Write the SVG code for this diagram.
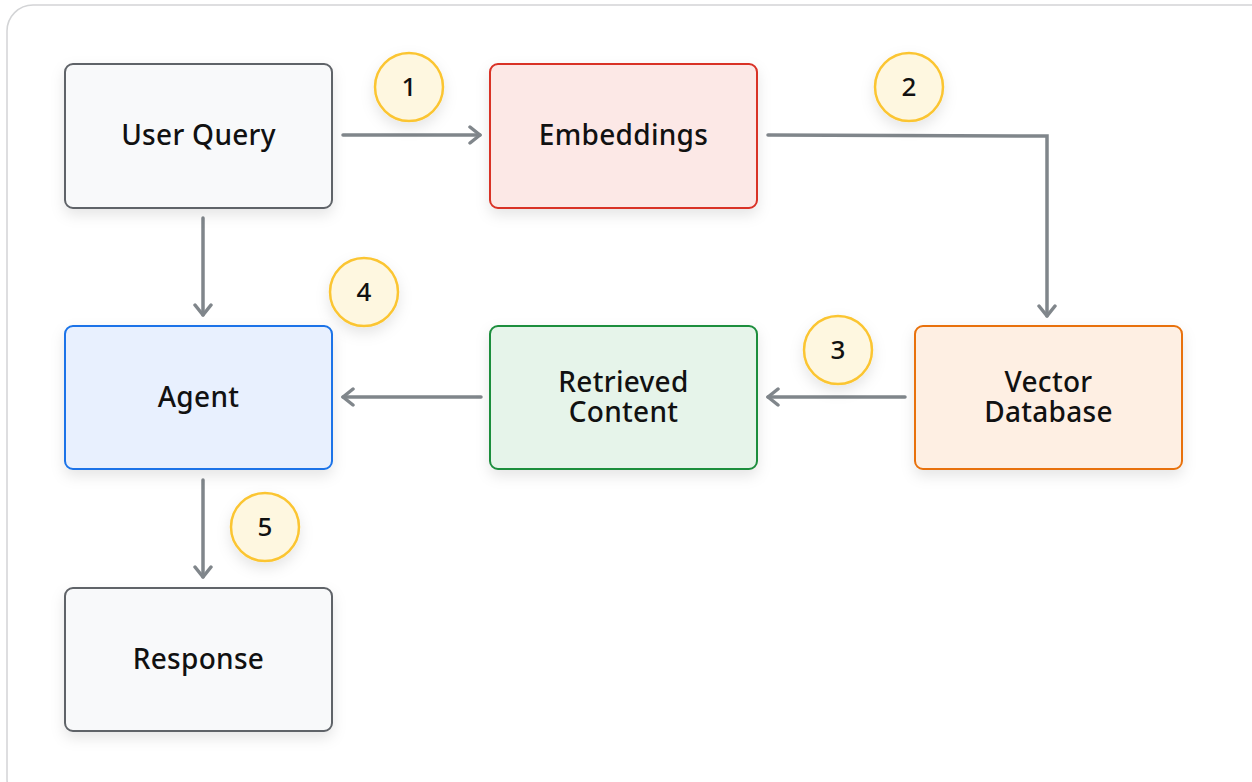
<svg xmlns="http://www.w3.org/2000/svg" width="1252" height="782" viewBox="0 0 1252 782">
<style>
.node rect{stroke-width:2}
.lbl{font-family:"Noto Sans","Open Sans",sans-serif;font-size:28px;font-weight:500;letter-spacing:0.3px;fill:#111;text-anchor:middle}
.num{font-family:"Noto Sans","Open Sans",sans-serif;font-size:26px;font-weight:500;fill:#111;text-anchor:middle}
.badge circle{fill:#fef7e0;stroke:#fbc531;stroke-width:2.5}
.conn path{fill:none;stroke:#80868b;stroke-width:3.5;stroke-linecap:round;stroke-linejoin:miter}
</style>
<defs>
<filter id="sh" x="-20%" y="-20%" width="140%" height="150%">
<feDropShadow dx="0" dy="6" stdDeviation="7" flood-color="#000" flood-opacity="0.10"/>
</filter>
<marker id="ah" viewBox="0 0 14 20" refX="12" refY="10" markerWidth="14" markerHeight="20" markerUnits="userSpaceOnUse" orient="auto">
<path d="M2,2 L12,10 L2,18" fill="none" stroke="#80868b" stroke-width="3.5" stroke-linecap="round" stroke-linejoin="round"/>
</marker>
</defs>
<rect x="0" y="0" width="1252" height="782" fill="#fff"/>
<rect x="7" y="5" width="1275" height="800" rx="26" fill="#fff" stroke="#d3d4d6" stroke-width="1.5"/>

<g class="conn" id="connectors">
<path d="M343,135 L480,135" marker-end="url(#ah)"/>
<path d="M768,135 L1047,136 L1047,316" marker-end="url(#ah)"/>
<path d="M905,397 L768,397" marker-end="url(#ah)"/>
<path d="M481,397 L343,397" marker-end="url(#ah)"/>
<path d="M203,218 L203,315" marker-end="url(#ah)"/>
<path d="M203,480 L203,577" marker-end="url(#ah)"/>
</g>

<g class="node" id="user-query">
<rect x="65" y="64" width="267" height="144" rx="8" fill="#f8f9fa" stroke="#5f6368" filter="url(#sh)"/>
<text class="lbl" x="198.5" y="145">User Query</text>
</g>
<g class="node" id="embeddings">
<rect x="490" y="64" width="267" height="144" rx="8" fill="#fce8e6" stroke="#d93025" filter="url(#sh)"/>
<text class="lbl" x="623.5" y="145">Embeddings</text>
</g>
<g class="node" id="vector-database">
<rect x="915" y="326" width="267" height="143" rx="8" fill="#feefe3" stroke="#e8710a" filter="url(#sh)"/>
<text class="lbl" x="1048.5" y="392"><tspan x="1048.5" y="392">Vector</tspan><tspan x="1048.5" y="422">Database</tspan></text>
</g>
<g class="node" id="retrieved-content">
<rect x="490" y="326" width="267" height="143" rx="8" fill="#e6f4ea" stroke="#1e8e3e" filter="url(#sh)"/>
<text class="lbl" x="623.5" y="392"><tspan x="623.5" y="392">Retrieved</tspan><tspan x="623.5" y="422">Content</tspan></text>
</g>
<g class="node" id="agent">
<rect x="65" y="326" width="267" height="143" rx="8" fill="#e8f0fe" stroke="#1a73e8" filter="url(#sh)"/>
<text class="lbl" x="198.5" y="407">Agent</text>
</g>
<g class="node" id="response">
<rect x="65" y="588" width="267" height="143" rx="8" fill="#f8f9fa" stroke="#5f6368" filter="url(#sh)"/>
<text class="lbl" x="198.5" y="669">Response</text>
</g>

<g class="badge" id="badge-1"><circle cx="409" cy="87" r="34" filter="url(#sh)"/><text class="num" x="409" y="96">1</text></g>
<g class="badge" id="badge-2"><circle cx="909" cy="87" r="34" filter="url(#sh)"/><text class="num" x="909" y="96">2</text></g>
<g class="badge" id="badge-3"><circle cx="838" cy="350" r="34" filter="url(#sh)"/><text class="num" x="838" y="359">3</text></g>
<g class="badge" id="badge-4"><circle cx="364" cy="292" r="34" filter="url(#sh)"/><text class="num" x="364" y="301">4</text></g>
<g class="badge" id="badge-5"><circle cx="265" cy="527" r="34" filter="url(#sh)"/><text class="num" x="265" y="536">5</text></g>
</svg>
